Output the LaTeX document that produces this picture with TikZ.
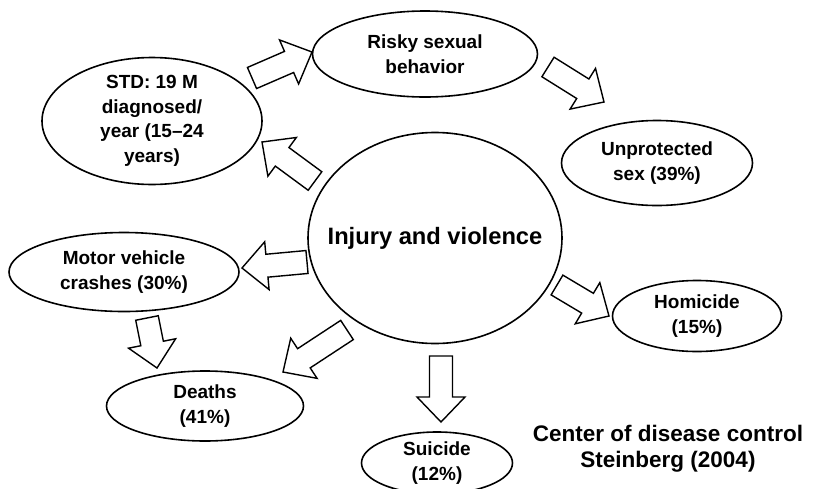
\documentclass[tikz,border=0pt]{standalone}
\usepackage{fontspec}
\setmainfont{Liberation Sans}
\usetikzlibrary{shapes.geometric}
\usetikzlibrary{calc}
\tikzset{bub/.style={ellipse, draw, line width=1.6pt, inner xsep=-60pt, inner ysep=-40pt, align=center, font=\fontsize{19}{24.5}\selectfont\bfseries}}
\tikzset{blk/.style={draw, line width=1.4pt, fill=white, line join=miter}}
\newcommand{\blkarrow}[2]{%
  \coordinate (hb) at ($(#2)!25pt!(#1)$);
  \draw[blk] ($(#1)!11.5pt!90:(#2)$) -- ($(hb)!11.5pt!90:(#2)$) -- ($(hb)!24pt!90:(#2)$) -- (#2)
    -- ($(hb)!24pt!-90:(#2)$) -- ($(hb)!11.5pt!-90:(#2)$) -- ($(#1)!11.5pt!-90:(#2)$) -- cycle;}
\begin{document}
\begin{tikzpicture}[x=1pt, y=-1pt]
    \useasboundingbox (0,0) rectangle (815,488);
    \node[bub, minimum width=254pt, minimum height=211pt, font=\fontsize{23.7}{28}\selectfont\bfseries] (inj) at (435,238) {Injury and violence};
    \node[bub, minimum width=225pt, minimum height=86pt] (risky) at (425,54) {Risky sexual\\behavior};
    \node[bub, minimum width=220pt, minimum height=127pt] (std) at (152,121) {STD: 19 M\\diagnosed/\\year (15--24\\years)};
    \node[bub, minimum width=191pt, minimum height=85pt] (unprot) at (657,163) {Unprotected\\sex (39\%)};
    \node[bub, minimum width=230pt, minimum height=79pt] (motor) at (124,272) {Motor vehicle\\crashes (30\%)};
    \node[bub, minimum width=169pt, minimum height=71pt] (homi) at (697,316) {Homicide\\(15\%)};
    \node[bub, minimum width=197pt, minimum height=70pt] (deaths) at (205,406) {Deaths\\(41\%)};
    \node[bub, minimum width=151pt, minimum height=62pt] (suic) at (437,463) {Suicide\\(12\%)};
    \node[align=center, font=\fontsize{22.5}{26}\selectfont\bfseries] (src) at (668,449) {Center of disease control\\Steinberg (2004)};

    \coordinate (s1) at (252,78);  \coordinate (e1) at (312,52);
    \coordinate (s2) at (315,181); \coordinate (e2) at (262,142);
    \coordinate (s3) at (548,67);  \coordinate (e3) at (604,102);
    \coordinate (s4) at (307,262); \coordinate (e4) at (242,268);
    \coordinate (s5) at (147,318); \coordinate (e5) at (157,368);
    \coordinate (s6) at (347,330); \coordinate (e6) at (283,372);
    \coordinate (s7) at (441,356); \coordinate (e7) at (441,422);
    \coordinate (s8) at (557,285); \coordinate (e8) at (609,316);
    \blkarrow{s1}{e1}
    \blkarrow{s2}{e2}
    \blkarrow{s3}{e3}
    \blkarrow{s4}{e4}
    \blkarrow{s5}{e5}
    \blkarrow{s6}{e6}
    \blkarrow{s7}{e7}
    \blkarrow{s8}{e8}
\end{tikzpicture}
\end{document}
